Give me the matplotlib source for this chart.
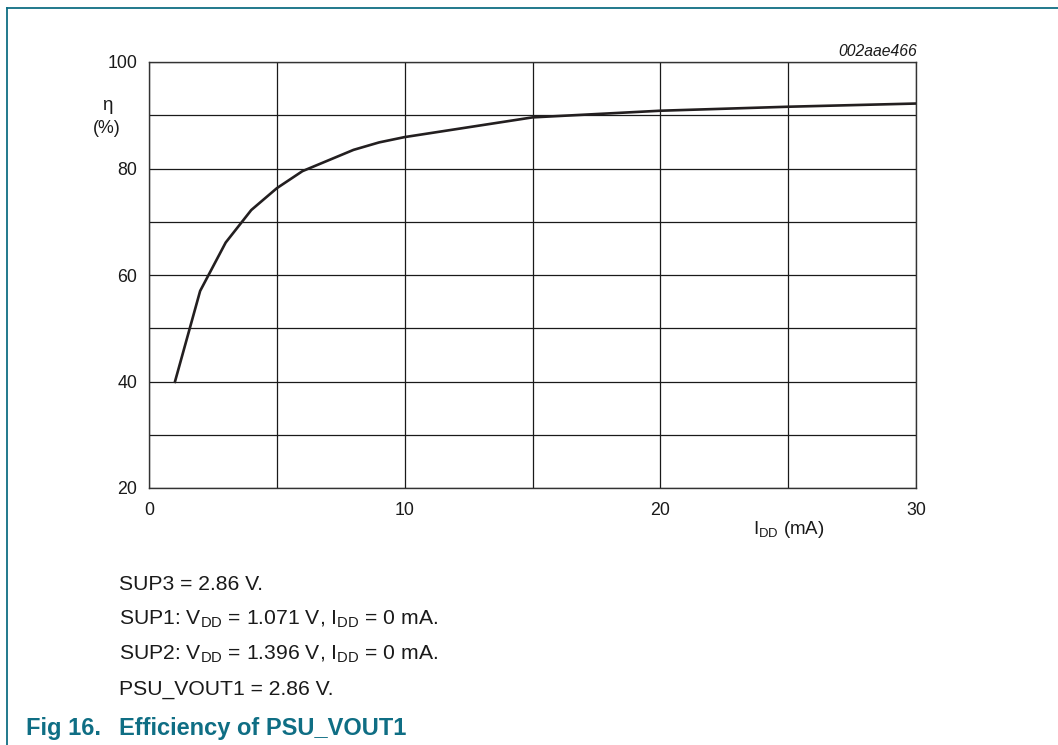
import matplotlib
matplotlib.use("Agg")
import matplotlib.pyplot as plt
from matplotlib.lines import Line2D

plt.rcParams['font.family'] = ['Liberation Sans', 'DejaVu Sans']
plt.rcParams['mathtext.fontset'] = 'custom'
plt.rcParams['mathtext.rm'] = 'Liberation Sans'
plt.rcParams['mathtext.it'] = 'Liberation Sans:italic'

# Data
idd_ma = [1, 2, 3, 4, 5, 6, 8, 9, 10, 15, 20, 25, 30]
efficiency_pct = [39.7, 57.0, 66.1, 72.2, 76.3, 79.5, 83.5, 84.9, 85.9, 89.6, 90.85, 91.6, 92.2]
x_ticks = [0, 10, 20, 30]
y_ticks = [20, 40, 60, 80, 100]
x_grid = [0, 5, 10, 15, 20, 25, 30]
y_grid = [20, 30, 40, 50, 60, 70, 80, 90, 100]
notes = [
    "SUP3 = 2.86 V.",
    r"SUP1: V$_{\mathrm{DD}}$ = 1.071 V, I$_{\mathrm{DD}}$ = 0 mA.",
    r"SUP2: V$_{\mathrm{DD}}$ = 1.396 V, I$_{\mathrm{DD}}$ = 0 mA.",
    "PSU_VOUT1 = 2.86 V.",
]

W, H = 1058, 745
fig = plt.figure(figsize=(W / 100, H / 100), dpi=100)

def fx(x):
    return x / W

def fy(y):
    return 1 - y / H

ax = fig.add_axes([fx(149), fy(488), fx(916) - fx(149), fy(62) - fy(488)])
ax.set_xlim(0, 30)
ax.set_ylim(20, 100)

for gx in x_grid:
    ax.axvline(gx, color='#1a1a1a', lw=0.9, zorder=1)
for gy in y_grid:
    ax.axhline(gy, color='#1a1a1a', lw=0.9, zorder=1)

ax.plot(idd_ma, efficiency_pct, color='#231f20', lw=1.9, zorder=3,
        solid_joinstyle='round', solid_capstyle='butt')

ax.set_xticks(x_ticks)
ax.set_yticks(y_ticks)
ax.set_xticklabels([str(v) for v in x_ticks])
ax.set_yticklabels([str(v) for v in y_ticks])
ax.tick_params(axis='both', length=0, labelsize=12.8, colors='#1a1a1a')
ax.tick_params(axis='x', pad=10)
ax.tick_params(axis='y', pad=8.5)
for s in ax.spines.values():
    s.set_color('#333333')
    s.set_linewidth(1.0)

# Axis labels
fig.text(fx(107.5), fy(110), "η", ha='center', va='baseline', fontsize=13.5, color='#1a1a1a')
fig.text(fx(107), fy(133), "(%)", ha='center', va='baseline', fontsize=12.8, color='#1a1a1a')
fig.text(fx(789), fy(534), r"I$_{\mathrm{DD}}$ (mA)", ha='center', va='baseline',
         fontsize=13.5, color='#1a1a1a')
fig.text(fx(917), fy(56), "002aae466", ha='right', va='baseline', fontsize=11.3,
         style='italic', color='#1a1a1a')

# Notes
for i, t in enumerate(notes):
    fig.text(fx(119), fy(590 + 35 * i), t, ha='left', va='baseline', fontsize=15.2,
             color='#1a1a1a')

teal = '#0f6e84'
fig.text(fx(26), fy(735), "Fig 16.", ha='left', va='baseline', fontsize=17,
         fontweight='bold', color=teal)
fig.text(fx(119), fy(735), "Efficiency of PSU_VOUT1", ha='left', va='baseline',
         fontsize=17, fontweight='bold', color=teal)

# Frame
fig.add_artist(Line2D([fx(7), 1], [fy(8), fy(8)], transform=fig.transFigure,
                      color=teal, lw=1.3))
fig.add_artist(Line2D([fx(7), fx(7)], [fy(8), 0], transform=fig.transFigure,
                      color=teal, lw=1.3))

fig.savefig("out.png", dpi=100)
